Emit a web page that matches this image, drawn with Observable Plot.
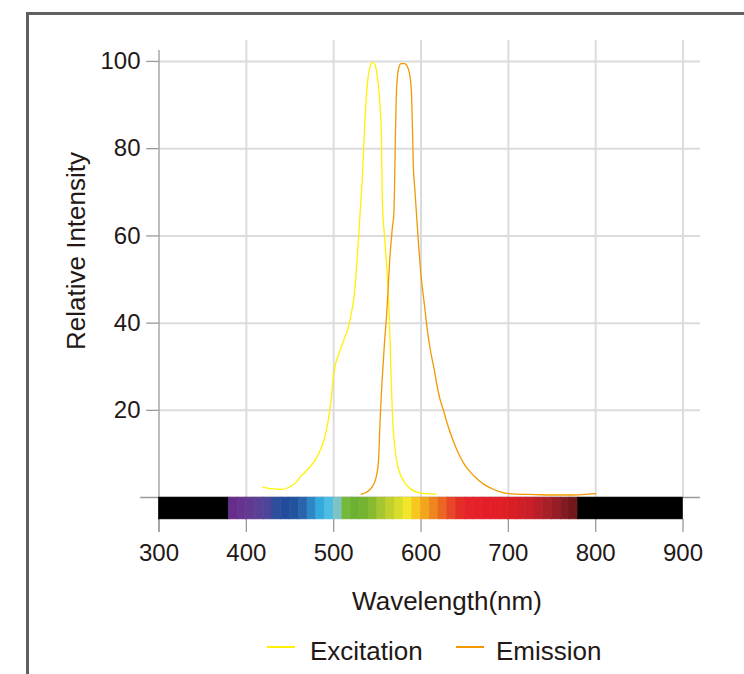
<!DOCTYPE html>
<html>
<head>
<meta charset="utf-8">
<script src="https://cdn.jsdelivr.net/npm/d3@7"></script>
<script src="https://cdn.jsdelivr.net/npm/@observablehq/plot@0.6"></script>
<style>
  html, body { margin: 0; padding: 0; background: #fff; overflow: hidden; }
  #wrap { position: relative; width: 744px; height: 674px; overflow: hidden;
          font-family: "Liberation Sans", Arial, Helvetica, sans-serif; color: #231815; }
  #frame { position: absolute; left: 26px; top: 12px; width: 800px; height: 800px;
           border-left: 3px solid #606060; border-top: 3px solid #606060; box-sizing: border-box; }
  #chart { position: absolute; left: 0; top: 0; }
  .title { position: absolute; font-size: 26px; line-height: 26px; white-space: nowrap; }
  #ytitle { left: 76px; top: 251px; transform: translate(-50%, -50%) rotate(-90deg); }
  #xtitle { left: 447px; top: 588px; transform: translateX(-50%); }
  .swatch { position: absolute; width: 28px; height: 1.5px; }
  .ltext { position: absolute; font-size: 26px; line-height: 26px; white-space: nowrap; }
</style>
</head>
<body>
<div id="wrap">
  <div id="frame"></div>
  <div id="chart"></div>
  <div class="title" id="ytitle">Relative Intensity</div>
  <div class="title" id="xtitle">Wavelength(nm)</div>
  <div class="swatch" style="left:267px; top:646px; background:#fff100;"></div>
  <div class="ltext" style="left:310px; top:638px;">Excitation</div>
  <div class="swatch" style="left:456px; top:646px; background:#f39800;"></div>
  <div class="ltext" style="left:496px; top:638px;">Emission</div>
</div>
<script>
// Excitation spectrum (wavelength nm, relative intensity)
const excWl  = [419, 430, 440, 450, 457, 462, 468, 474, 480, 485, 490, 494, 497, 499.5, 502, 506, 511, 516, 520, 523, 525.5, 528, 530.5, 533, 535.5, 538, 541, 544.5, 547.5, 550, 552, 553.6, 554.8, 555.6, 558.6, 561.3, 564, 565.5, 567.5, 570, 573, 577, 582, 588, 596, 605, 617];
const excVal = [2.4, 2.0, 1.9, 2.5, 3.5, 4.8, 6.0, 7.3, 9.0, 11.0, 14.0, 18.0, 22.5, 27.5, 30.5, 33, 35.8, 38.5, 42, 45.5, 51, 58, 66, 74, 85, 93.5, 98.3, 99.8, 99.2, 96.5, 93, 88, 81.7, 68.8, 58.9, 51.2, 39.8, 29, 18, 11.5, 7.5, 5, 3.2, 2, 1.2, 0.9, 0.8];

// Emission spectrum
const emWl  = [531.5, 538, 543, 547, 549.5, 551.5, 553, 555.5, 558, 561, 564, 567, 569, 570, 570.8, 572, 574, 577, 581, 584, 587, 589, 590.3, 591.2, 593, 596.5, 600, 604, 607.5, 611, 615, 619.5, 622.5, 625, 630, 636, 642, 650, 658, 666, 674, 684, 695, 710, 730, 750, 770, 785, 800];
const emVal = [0.8, 1.3, 2.2, 3.6, 5.5, 9, 17, 27, 35, 43, 54, 61.5, 65.5, 75, 84, 93.5, 98, 99.5, 99.5, 99, 97, 93, 84, 76, 70.5, 60, 51, 44, 38, 33.5, 29.5, 24.5, 22, 20.5, 17, 13.5, 10.5, 7.5, 5.5, 4.0, 2.8, 1.8, 1.1, 0.8, 0.7, 0.6, 0.6, 0.7, 0.9];

// Axis ticks
const xTicks = [300, 400, 500, 600, 700, 800, 900];
const yTicks = [20, 40, 60, 80, 100];

// Visible-spectrum strip: segment start wavelengths and colours
const specStart = [300, 380, 390, 400, 410, 420, 430, 440, 450, 460, 470, 480, 490, 500, 510, 520, 530, 540, 550, 560, 570, 580, 590, 600, 610, 620, 630, 640, 650, 660, 670, 680, 690, 700, 710, 720, 730, 740, 750, 760, 770, 780, 900];
const specColor = ["#000000", "#662d8a", "#67338f", "#633a92", "#5a4096", "#4b4699", "#2e4d9c", "#224c9b", "#23529f", "#2a64ad", "#2f86c6", "#36a9df", "#4ebce3", "#7cc4c4", "#76b83a", "#6cb134", "#74b431", "#86ba2f", "#a5c62f", "#c0d12e", "#d8dc2c", "#f2e62a", "#f5c71f", "#f1a41c", "#ee8620", "#ea6623", "#e74726", "#e52e28", "#e5232a", "#e4202a", "#e41e28", "#e21e27", "#e01e26", "#d91e26", "#d21e27", "#c81f28", "#b91f29", "#a91f28", "#961d26", "#821a21", "#72171c", "#000000"];

const exc = excWl.map((w, i) => ({wl: w, v: excVal[i]}));
const em = emWl.map((w, i) => ({wl: w, v: emVal[i]}));
const spec = specColor.map((c, i) => ({x1: specStart[i], x2: specStart[i + 1], color: c}));

const gridColor = "#dcdcdc";
const axisColor = "#9a9a9a";

const chart = Plot.plot({
  width: 744,
  height: 580,
  marginLeft: 158.5,
  marginRight: 44,
  marginTop: 40,
  marginBottom: 48,
  style: {fontFamily: '"Liberation Sans", Arial, Helvetica, sans-serif', color: "#231815", background: "transparent", overflow: "visible"},
  x: {domain: [300, 920]},
  y: {domain: [-8, 104.8]},
  color: {type: "identity"},
  marks: [
    Plot.ruleY(yTicks, {x1: 300, x2: 920, stroke: gridColor, strokeWidth: 2}),
    Plot.ruleX(xTicks.slice(1), {y1: 0, y2: 104.8, stroke: gridColor, strokeWidth: 2}),
    Plot.ruleY(yTicks, {x1: 286, x2: 300, stroke: axisColor, strokeWidth: 1.3}),
    Plot.ruleX(xTicks, {y1: -8, y2: -5, stroke: axisColor, strokeWidth: 1.3}),
    Plot.ruleX([300], {y1: -8, y2: 102.5, stroke: axisColor, strokeWidth: 1.3}),
    Plot.ruleY([0], {x1: 279, x2: 920, stroke: axisColor, strokeWidth: 1.5}),
    Plot.line(exc, {x: "wl", y: "v", stroke: "#fff100", strokeWidth: 1.3, curve: "monotone-x"}),
    Plot.line(em, {x: "wl", y: "v", stroke: "#f39800", strokeWidth: 1.3, curve: "monotone-x"}),
    Plot.rect(spec, {x1: "x1", x2: "x2", y1: -5, y2: 0, fill: "color", stroke: "color", strokeWidth: 0.6}),
    Plot.axisY({ticks: yTicks, tickSize: 0, tickPadding: 18.5, fontSize: 24, label: null}),
    Plot.axisX({ticks: xTicks, tickSize: 0, tickPadding: 11, fontSize: 24, label: null})
  ]
});
document.getElementById("chart").appendChild(chart);
</script>
</body>
</html>
